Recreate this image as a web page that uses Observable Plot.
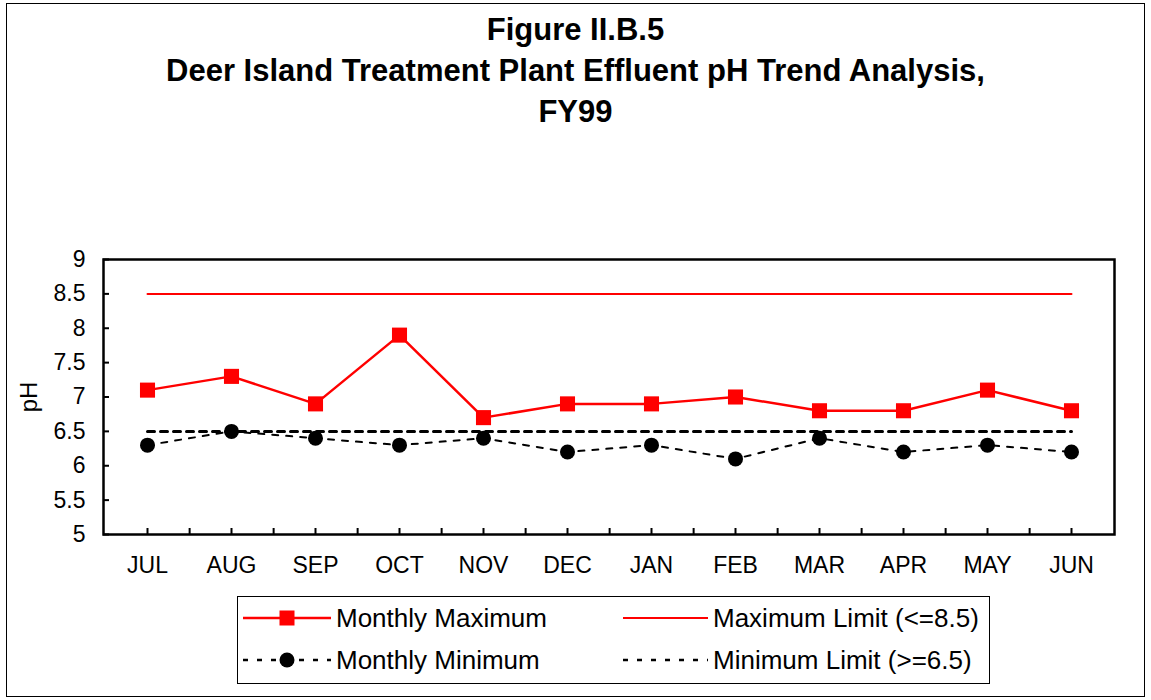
<!DOCTYPE html>
<html><head><meta charset="utf-8">
<script src="https://cdn.jsdelivr.net/npm/d3@7"></script>
<script src="https://cdn.jsdelivr.net/npm/@observablehq/plot@0.6"></script>
<style>
html,body{margin:0;padding:0;background:#fff;}
#page{position:relative;width:1151px;height:700px;font-family:"Liberation Sans",Arial,sans-serif;}
#border{position:absolute;left:6px;top:3px;width:1139px;height:694px;border:1.5px solid #000;box-sizing:border-box;z-index:5;pointer-events:none;}
#title{position:absolute;left:0;top:9px;width:1151px;text-align:center;font-weight:bold;font-size:31px;line-height:41px;color:#000;}
#chart{position:absolute;left:0;top:240px;}
#legend{position:absolute;left:237px;top:596px;width:753px;height:88px;border:1.5px solid #000;box-sizing:border-box;}
.li{position:absolute;display:flex;align-items:center;font-size:26px;height:30px;white-space:nowrap;}
.li svg{margin-right:5px;}
</style></head>
<body><div id="page">
<div id="border"></div>
<div id="title">Figure II.B.5<br>Deer Island Treatment Plant Effluent pH Trend Analysis,<br>FY99</div>
<div id="chart"></div>
<div id="legend"></div>
</div>
<script>
const months = ["JUL","AUG","SEP","OCT","NOV","DEC","JAN","FEB","MAR","APR","MAY","JUN"];
const monthlyMax = [7.1,7.3,6.9,7.9,6.7,6.9,6.9,7.0,6.8,6.8,7.1,6.8];
const monthlyMin = [6.3,6.5,6.4,6.3,6.4,6.2,6.3,6.1,6.4,6.2,6.3,6.2];
const maxLimit = 8.5;
const minLimit = 6.5;
const yTicks = [5,5.5,6,6.5,7,7.5,8,8.5,9];
const seriesNames = ["Monthly Maximum","Maximum Limit (<=8.5)","Monthly Minimum","Minimum Limit (>=6.5)"];

const maxData = months.map((m,i)=>({month:m, value:monthlyMax[i]}));
const minData = months.map((m,i)=>({month:m, value:monthlyMin[i]}));
const maxLimData = months.map(m=>({month:m, value:maxLimit}));
const minLimData = months.map(m=>({month:m, value:minLimit}));

const W = 1151, H = 350, mL = 103, mR = 37, mT = 19, mB = 56;
const step = (W - mL - mR) / months.length;
const tk = 6;

const chart = Plot.plot({
  width: W, height: H,
  marginLeft: mL, marginRight: mR, marginTop: mT, marginBottom: mB,
  style: {fontFamily: '"Liberation Sans", Arial, sans-serif', fontSize: "23px", color: "#000", background: "transparent", overflow: "visible"},
  x: {type: "point", domain: months, padding: 0.5, align: 0.5, label: null},
  y: {domain: [5, 9], ticks: yTicks, label: null},
  marks: [
    Plot.axisY({ticks: yTicks, tickFormat: d => String(d), tickSize: 0, tickPadding: 18, fontSize: 23}),
    Plot.axisY({ticks: yTicks, tickFormat: () => "", tickSize: tk, dx: tk, stroke: "#000", strokeWidth: 2}),
    Plot.axisX({tickSize: 0, tickPadding: 22, fontSize: 23}),
    Plot.axisX({tickFormat: () => "", tickSize: tk, dy: -tk, stroke: "#000", strokeWidth: 2}),
    Plot.axisX({ticks: months.slice(0, -1), tickFormat: () => "", tickSize: tk, dy: -tk, dx: step/2, stroke: "#000", strokeWidth: 2}),
    Plot.frame({stroke: "#000", strokeWidth: 2.5}),
    Plot.text(["pH"], {frameAnchor: "left", dx: -74, rotate: -90, textAnchor: "middle", fontSize: 24, text: d => d}),
    Plot.line(maxLimData, {x: "month", y: "value", stroke: "#ff0000", strokeWidth: 2}),
    Plot.line(minLimData, {x: "month", y: "value", stroke: "#000", strokeWidth: 3, strokeDasharray: "7,6"}),
    Plot.line(minData, {x: "month", y: "value", stroke: "#000", strokeWidth: 2, strokeDasharray: "6,8"}),
    Plot.dot(minData, {x: "month", y: "value", r: 7.5, fill: "#000", stroke: "none"}),
    Plot.line(maxData, {x: "month", y: "value", stroke: "#ff0000", strokeWidth: 2.5}),
    Plot.dot(maxData, {x: "month", y: "value", symbol: "square", r: 8.5, fill: "#ff0000", stroke: "none"})
  ]
});
document.getElementById("chart").appendChild(chart);

const legend = document.getElementById("legend");
const items = [
  {name: seriesNames[0], left: 5, top: 6, stroke: "#ff0000", sw: 2.5, dash: null, marker: "square", mfill: "#ff0000", w: 88},
  {name: seriesNames[1], left: 385, top: 6, stroke: "#ff0000", sw: 2, dash: null, marker: null, w: 85},
  {name: seriesNames[2], left: 5, top: 48, stroke: "#000", sw: 2.5, dash: "5,9", marker: "circle", mfill: "#000", w: 88},
  {name: seriesNames[3], left: 385, top: 48, stroke: "#000", sw: 2.5, dash: "5,9", marker: null, w: 85}
];
for (const it of items) {
  const d = document.createElement("div");
  d.className = "li";
  d.style.left = it.left + "px";
  d.style.top = it.top + "px";
  const w = it.w;
  let svg = `<svg width="${w}" height="30"><line x1="0" x2="${w}" y1="15" y2="15" stroke="${it.stroke}" stroke-width="${it.sw}" ${it.dash ? `stroke-dasharray="${it.dash}"` : ""}/>`;
  if (it.marker === "square") svg += `<rect x="${w/2-7.5}" y="7.5" width="15" height="15" fill="${it.mfill}"/>`;
  if (it.marker === "circle") svg += `<circle cx="${w/2}" cy="15" r="7.5" fill="${it.mfill}"/>`;
  svg += `</svg>`;
  d.innerHTML = svg + `<span>${it.name.replace("<","&lt;").replace(">","&gt;")}</span>`;
  legend.appendChild(d);
}
</script>
</body></html>
